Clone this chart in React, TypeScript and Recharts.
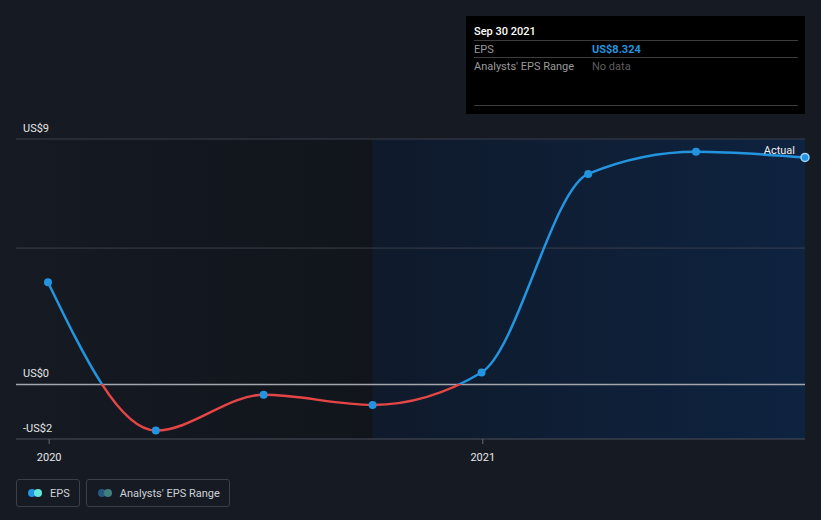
import React from "react";
import {
  ComposedChart, Line, XAxis, YAxis, ReferenceLine, ReferenceArea, ReferenceDot,
} from "recharts";

// quarter-end dates and reported EPS (US$)
const dates = ["2019-12-31", "2020-03-31", "2020-06-30", "2020-09-30", "2020-12-31", "2021-03-31", "2021-06-30", "2021-09-30"];
const eps = [3.75, -1.69, -0.38, -0.75, 0.44, 7.72, 8.53, 8.324];
const yTicks = [-2, 0, 9];
const yTickLabels = ["-US$2", "US$0", "US$9"];
const xTicks = ["2020-01-01", "2021-01-01"];
const xTickLabels = ["2020", "2021"];
const gridValues = [5, 9];
const forecastStart = "2020-09-30";
const domainStart = "2019-12-04";

const ts = (d: string) => Date.parse(d + "T00:00:00Z");

const W = 821;
const H = 520;
const M = { top: 139, right: 16, bottom: 0, left: 16 };
const X_AXIS_H = 81;
const Y_MIN = -2;
const Y_MAX = 9;

const BG = "#151a23";
const BLUE = "#2394df";
const RED = "#e64545";

const data = dates.map((d, i) => ({ t: ts(d), eps: eps[i] }));
const last = data[data.length - 1];

const XTick = (props: any) => {
  const { x, y, payload } = props;
  const idx = xTicks.map(ts).indexOf(payload.value);
  return (
    <g>
      <line x1={x} x2={x} y1={y - 8} y2={y - 3} stroke="#666b75" />
      <text x={x} y={y + 14} fill="#e6e6e6" fontSize={11} textAnchor="middle">
        {idx >= 0 ? xTickLabels[idx] : ""}
      </text>
    </g>
  );
};

const ActualLabel = (props: any) => {
  const vb = props.viewBox || {};
  return (
    <text x={vb.x - 6} y={vb.y + 1} fill="#f0f0f0" fontSize={11} textAnchor="end">Actual</text>
  );
};

function LegendItem({ label, c1, c2 }: { label: string; c1: string; c2: string }) {
  return (
    <div style={{
      display: "flex", alignItems: "center", height: 26, padding: "0 9px 0 11px",
      border: "1px solid #3a3f4a", borderRadius: 3, color: "#cfd2d8", fontSize: 11,
    }}>
      <span style={{ position: "relative", width: 14, height: 8, marginRight: 8 }}>
        <span style={{ position: "absolute", left: 0, top: 0, width: 8, height: 8, borderRadius: 4, background: c1 }} />
        <span style={{ position: "absolute", left: 6, top: 0, width: 8, height: 8, borderRadius: 4, background: c2 }} />
      </span>
      {label}
    </div>
  );
}

export default function App() {
  const zeroOffset = (Y_MAX - 0) / (Y_MAX - Y_MIN);
  const plotH = H - M.top - M.bottom - X_AXIS_H;
  return (
    <div style={{
      position: "absolute", left: 0, top: 0, width: W, height: H, background: BG,
      fontFamily: "Roboto, 'Noto Sans', sans-serif", overflow: "hidden",
    }}>
      <ComposedChart width={W} height={H} data={data} margin={M}>
        <defs>
          <linearGradient id="epsStroke" gradientUnits="userSpaceOnUse" x1={0} x2={0} y1={M.top} y2={M.top + plotH}>
            <stop offset={zeroOffset} stopColor={BLUE} />
            <stop offset={zeroOffset} stopColor={RED} />
          </linearGradient>
          <linearGradient id="pastFill" x1="0" x2="1" y1="0" y2="0">
            <stop offset="0" stopColor="#0d1015" stopOpacity={0} />
            <stop offset="1" stopColor="#0d1015" stopOpacity={0.55} />
          </linearGradient>
          <linearGradient id="futureFill" x1="0" x2="1" y1="0" y2="0">
            <stop offset="0" stopColor="#0f1a2b" />
            <stop offset="1" stopColor="#0e2340" />
          </linearGradient>
        </defs>
        <XAxis
          dataKey="t" type="number" scale="time"
          domain={[ts(domainStart), last.t]}
          ticks={xTicks.map(ts)} tick={<XTick />}
          axisLine={false} tickLine={false} height={X_AXIS_H} interval={0}
        />
        <YAxis type="number" domain={[Y_MIN, Y_MAX]} hide />
        <ReferenceArea x1={ts(domainStart)} x2={ts(forecastStart)} y1={Y_MIN} y2={Y_MAX}
          fill="url(#pastFill)" fillOpacity={1} stroke="none" ifOverflow="hidden" />
        <ReferenceArea x1={ts(forecastStart)} x2={last.t} y1={Y_MIN} y2={Y_MAX}
          fill="url(#futureFill)" fillOpacity={1} stroke="none" />
        {gridValues.map((v) => (
          <ReferenceLine key={v} y={v} stroke="#3a3f4a" strokeWidth={1} />
        ))}
        <ReferenceLine y={Y_MIN} stroke="#4b505a" strokeWidth={1} />
        <ReferenceLine y={0} stroke="#a3a6ad" strokeWidth={1.5} />
        {yTicks.map((v, i) => (
          <ReferenceLine key={"lbl" + v} y={v} stroke="none"
            label={{ value: yTickLabels[i], position: "insideBottomLeft", offset: 7, fill: "#e6e6e6", fontSize: 11 }} />
        ))}
        <Line
          type="monotone" dataKey="eps" stroke="url(#epsStroke)" strokeWidth={2.5}
          dot={{ r: 4, fill: BLUE, stroke: "none" }} activeDot={false}
          isAnimationActive={false}
        />
        <ReferenceDot x={last.t} y={last.eps} r={4} fill={BLUE} stroke="#9fd2f5" strokeWidth={1.5}
          label={<ActualLabel />} />
      </ComposedChart>

      {/* tooltip box for the last point */}
      <div style={{
        position: "absolute", left: 466, top: 16, width: 339, height: 98, background: "#000",
        boxSizing: "border-box", padding: "9px 7px 0 8px", fontSize: 11,
      }}>
        <div style={{ color: "#fff", fontWeight: 500, height: 15, borderBottom: "1px solid #3d3d3d" }}>Sep 30 2021</div>
        <div style={{ display: "flex", height: 16, alignItems: "center", borderBottom: "1px solid #3d3d3d" }}>
          <span style={{ width: 118, color: "#9a9a9a" }}>EPS</span>
          <span style={{ color: BLUE, fontWeight: 700 }}>US${last.eps.toFixed(3)}</span>
        </div>
        <div style={{ display: "flex", height: 17, alignItems: "center" }}>
          <span style={{ width: 118, color: "#9a9a9a" }}>Analysts' EPS Range</span>
          <span style={{ color: "#5e5e5e" }}>No data</span>
        </div>
        <div style={{ position: "absolute", left: 8, right: 7, top: 89, borderTop: "1px solid #3d3d3d" }} />
      </div>

      <div style={{ position: "absolute", left: 16, top: 479, display: "flex", gap: 6 }}>
        <LegendItem label="EPS" c1={BLUE} c2="#62e6da" />
        <LegendItem label="Analysts' EPS Range" c1="#24587f" c2="#3f7f7d" />
      </div>
    </div>
  );
}
